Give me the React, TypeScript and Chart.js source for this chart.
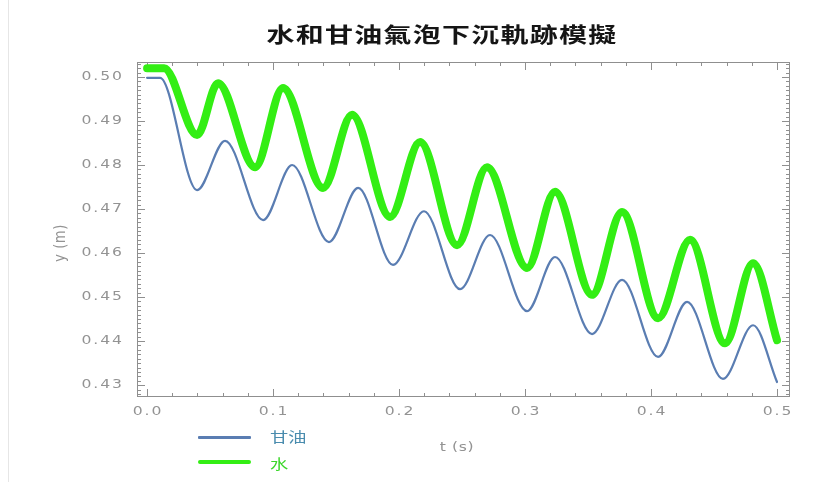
import { useEffect, useRef } from "react";
import { Chart, registerables } from "chart.js";

Chart.register(...registerables);

const TITLE = "水和甘油氣泡下沉軌跡模擬";
const GLYCERIN_LABEL = "甘油";
const WATER_LABEL = "水";
const X_TITLE = "t (s)";
const Y_TITLE = "y (m)";

// Bubble depth y (m) against time t (s), turning points of each trajectory
const glycerinT = [0, 0.0103, 0.0397, 0.0619, 0.0921, 0.1151, 0.1444, 0.1675, 0.1952, 0.2198, 0.2484, 0.2722, 0.3016, 0.3238, 0.3532, 0.377, 0.4056, 0.4286, 0.4571, 0.481, 0.5];
const glycerinY = [0.4998, 0.4998, 0.4743, 0.4855, 0.4675, 0.48, 0.4625, 0.4748, 0.4573, 0.4695, 0.4518, 0.4641, 0.4468, 0.4591, 0.4416, 0.4539, 0.4364, 0.4489, 0.4314, 0.4436, 0.4307];

const waterT = [0, 0.0135, 0.0397, 0.0563, 0.0857, 0.1079, 0.1397, 0.1627, 0.1929, 0.2167, 0.246, 0.2698, 0.3016, 0.3238, 0.3532, 0.377, 0.4056, 0.431, 0.4587, 0.481, 0.5];
const waterY = [0.502, 0.502, 0.4868, 0.4986, 0.4795, 0.4975, 0.4748, 0.4914, 0.4682, 0.4852, 0.4618, 0.4795, 0.4566, 0.4739, 0.4505, 0.4693, 0.4452, 0.463, 0.4395, 0.4577, 0.4402];

// Axis ticks
const xMajorTicks = [0, 0.1, 0.2, 0.3, 0.4, 0.5];
const xTickLabels = ["0.0", "0.1", "0.2", "0.3", "0.4", "0.5"];
const yMajorTicks = [0.43, 0.44, 0.45, 0.46, 0.47, 0.48, 0.49, 0.5];
const yTickLabels = ["0.43", "0.44", "0.45", "0.46", "0.47", "0.48", "0.49", "0.50"];
const X_MINOR_STEP = 0.02;
const Y_MINOR_STEP = 0.001;

const X_RANGE = [-0.008, 0.5103];
const Y_RANGE = [0.4273, 0.5034];

const GLYCERIN_COLOR = "#5a7db2";
const WATER_COLOR = "#33ee14";
const FRAME_COLOR = "#8f8f8f";
const LABEL_COLOR = "#939393";
const STRETCH = 1.3;

const toPoints = (ts: number[], ys: number[]) => ts.map((t, i) => ({ x: t, y: ys[i] }));

const frameTicksPlugin = {
  id: "frameTicks",
  beforeDatasetsDraw(chart: any) {
    const { ctx, chartArea: a, scales } = chart;
    const xs = scales.x;
    const ys = scales.y;
    ctx.save();
    ctx.strokeStyle = FRAME_COLOR;
    ctx.lineWidth = 1;
    ctx.strokeRect(Math.round(a.left) + 0.5, Math.round(a.top) + 0.5, Math.round(a.right - a.left) - 1, Math.round(a.bottom - a.top) - 1);

    ctx.beginPath();
    // horizontal axis ticks, bottom and top, pointing inward
    const xCount = Math.round(0.5 / X_MINOR_STEP);
    for (let i = 0; i <= xCount; i++) {
      const v = i * X_MINOR_STEP;
      const len = i % 5 === 0 ? 8 : 4;
      const px = Math.round(xs.getPixelForValue(v)) + 0.5;
      ctx.moveTo(px, a.bottom);
      ctx.lineTo(px, a.bottom - len);
      ctx.moveTo(px, a.top);
      ctx.lineTo(px, a.top + len);
    }
    // vertical axis ticks, left and right
    const yStart = Math.ceil(Y_RANGE[0] / Y_MINOR_STEP);
    const yEnd = Math.floor(Y_RANGE[1] / Y_MINOR_STEP);
    for (let i = yStart; i <= yEnd; i++) {
      const v = i * Y_MINOR_STEP;
      const len = i % 10 === 0 ? 8 : 4;
      const py = Math.round(ys.getPixelForValue(v)) + 0.5;
      ctx.moveTo(a.left, py);
      ctx.lineTo(a.left + len, py);
      ctx.moveTo(a.right, py);
      ctx.lineTo(a.right - len, py);
    }
    ctx.stroke();
    ctx.restore();
  },
  afterDraw(chart: any) {
    const { ctx, chartArea: a, scales } = chart;
    const xs = scales.x;
    const ys = scales.y;
    const put = (text: string, x: number, y: number, align: CanvasTextAlign) => {
      ctx.save();
      ctx.translate(x, y);
      ctx.scale(STRETCH, 1);
      ctx.textAlign = align;
      ctx.textBaseline = "middle";
      ctx.fillText(text, 0, 0);
      ctx.restore();
    };
    ctx.save();
    ctx.fillStyle = LABEL_COLOR;
    ctx.font = '12px "DejaVu Sans", sans-serif';
    (ctx as any).letterSpacing = "1.5px";
    yMajorTicks.forEach((v, i) => put(yTickLabels[i], a.left - 13, ys.getPixelForValue(v), "right"));
    xMajorTicks.forEach((v, i) => put(xTickLabels[i], xs.getPixelForValue(v) + 1, a.bottom + 15, "center"));
    (ctx as any).letterSpacing = "0.5px";
    ctx.font = '12px "DejaVu Sans", sans-serif';
    put(X_TITLE, 457, 448, "center");
    ctx.save();
    ctx.translate(61, 243);
    ctx.rotate(-Math.PI / 2);
    ctx.scale(1.1, 1.3);
    ctx.textAlign = "center";
    ctx.textBaseline = "middle";
    ctx.fillText(Y_TITLE, 0, 0);
    ctx.restore();
    ctx.restore();
  },
};

export default function App() {
  const canvasRef = useRef<HTMLCanvasElement | null>(null);

  useEffect(() => {
    const canvas = canvasRef.current;
    if (!canvas) return;
    const chart = new Chart(canvas, {
      type: "line",
      data: {
        datasets: [
          {
            label: GLYCERIN_LABEL,
            data: toPoints(glycerinT, glycerinY),
            borderColor: GLYCERIN_COLOR,
            borderWidth: 2.2,
            order: 2,
          },
          {
            label: WATER_LABEL,
            data: toPoints(waterT, waterY),
            borderColor: WATER_COLOR,
            borderWidth: 8,
            order: 1,
          },
        ],
      },
      options: {
        responsive: false,
        animation: false,
        devicePixelRatio: 1,
        layout: { padding: { left: 137, right: 39, top: 62, bottom: 85 } },
        elements: {
          point: { radius: 0, hoverRadius: 0 },
          line: {
            cubicInterpolationMode: "monotone",
            borderCapStyle: "round",
            borderJoinStyle: "round",
            fill: false,
          },
        },
        plugins: {
          legend: { display: false },
          title: { display: false },
          tooltip: { enabled: false },
        },
        scales: {
          x: {
            type: "linear",
            min: X_RANGE[0],
            max: X_RANGE[1],
            grid: { display: false },
            border: { display: false },
            ticks: { display: false },
            afterFit: (s: any) => {
              s.height = 0;
            },
          },
          y: {
            type: "linear",
            min: Y_RANGE[0],
            max: Y_RANGE[1],
            grid: { display: false },
            border: { display: false },
            ticks: { display: false },
            afterFit: (s: any) => {
              s.width = 0;
            },
          },
        },
      },
      plugins: [frameTicksPlugin],
    } as any);
    return () => chart.destroy();
  }, []);

  const legendText = {
    position: "absolute" as const,
    left: 270,
    fontFamily: '"Noto Sans CJK TC", sans-serif',
    fontSize: 14,
    lineHeight: "14px",
    transform: "translateY(-50%) scaleX(1.3)",
    transformOrigin: "left center",
    whiteSpace: "nowrap" as const,
  };

  return (
    <div style={{ position: "absolute", left: 0, top: 0, width: 829, height: 482, background: "#fff", overflow: "hidden" }}>
      <div style={{ position: "absolute", left: 8, top: 0, width: 1, height: 482, background: "#e6e6e6" }} />
      <canvas ref={canvasRef} width={829} height={482} style={{ position: "absolute", left: 0, top: 0, width: 829, height: 482 }} />
      <div
        style={{
          position: "absolute",
          left: 442,
          top: 33,
          fontFamily: '"Noto Sans CJK TC", sans-serif',
          fontWeight: 700,
          fontSize: 21,
          lineHeight: "21px",
          letterSpacing: 1,
          color: "#151515",
          whiteSpace: "nowrap",
          transform: "translate(-50%, -50%) scaleX(1.33)",
        }}
      >
        {TITLE}
      </div>
      <div style={{ position: "absolute", left: 198, top: 436, width: 53, height: 3, background: GLYCERIN_COLOR, borderRadius: 1 }} />
      <div style={{ ...legendText, top: 436, color: "#4a8cae" }}>{GLYCERIN_LABEL}</div>
      <div style={{ position: "absolute", left: 198, top: 460, width: 53, height: 4, background: WATER_COLOR, borderRadius: 2 }} />
      <div style={{ ...legendText, top: 463, color: "#3ad629" }}>{WATER_LABEL}</div>
    </div>
  );
}
